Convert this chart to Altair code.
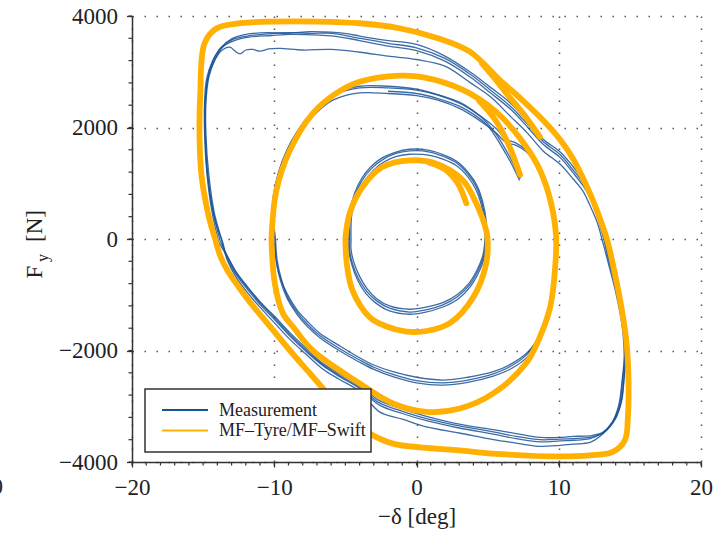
import altair as alt
import pandas as pd

# ---- Measurement (blue), several recorded cycles per amplitude ----
BLUE_LARGE_1 = [(-13.8,-40),(-14.3,500),(-14.7,1200),(-14.85,1900),(-14.85,2400),(-14.7,2850),(-14.4,3150),(-13.8,3420),(-13.0,3590),(-12.0,3670),(-10.5,3700),(-9.0,3690),(-7.5,3720),(-6.0,3710),(-4.8,3680),(-4.0,3640),(-2.0,3560),(0.0,3490),(2.0,3280),(3.8,2990),(5.2,2720),(6.6,2440),(7.8,2110),(8.9,1790),(10.1,1560),(11.0,1300),(11.7,1050),(12.2,800),(12.7,460),(13.1,120),(13.5,-300),(14.1,-850),(14.55,-1450),(14.75,-2000),(14.6,-2450),(14.4,-2900),(14.0,-3220),(13.2,-3460),(12.2,-3530),(11.0,-3540),(10.1,-3560),(8.7,-3560),(7.0,-3490),(5.4,-3420),(3.0,-3320),(0.7,-3180),(-1.0,-3050),(-2.6,-2900),(-4.0,-2630),(-5.4,-2420),(-6.6,-2230),(-7.8,-1950),(-8.9,-1680),(-10.0,-1380),(-10.8,-1180),(-11.8,-880),(-12.7,-580),(-13.3,-300),(-13.8,-40)]
BLUE_LARGE_2 = [(-13.6,-80),(-14.2,450),(-14.6,1150),(-14.8,1850),(-14.8,2450),(-14.6,2900),(-14.2,3200),(-13.6,3450),(-12.8,3560),(-11.8,3620),(-10.2,3650),(-8.8,3670),(-7.2,3660),(-5.8,3640),(-4.0,3560),(-2.0,3460),(0.0,3380),(2.0,3190),(3.8,2900),(5.2,2620),(6.6,2330),(7.8,2010),(8.9,1700),(10.1,1460),(11.0,1190),(11.7,960),(12.2,740),(12.7,400),(13.1,60),(13.5,-380),(14.05,-900),(14.5,-1500),(14.65,-2050),(14.5,-2500),(14.3,-2950),(13.8,-3270),(13.0,-3490),(12.2,-3580),(11.0,-3610),(10.1,-3620),(8.7,-3640),(7.0,-3580),(5.4,-3500),(3.0,-3390),(0.7,-3260),(-1.0,-3130),(-2.6,-2980),(-4.0,-2680),(-5.4,-2470),(-6.6,-2270),(-7.8,-2010),(-8.9,-1740),(-10.0,-1440),(-10.8,-1230),(-11.8,-930),(-12.7,-630),(-13.3,-350),(-13.6,-80)]
BLUE_LARGE_3 = [(-13.7,-20),(-14.3,480),(-14.7,1180),(-14.85,1880),(-14.85,2500),(-14.6,2950),(-14.1,3250),(-13.6,3400),(-13.1,3440),(-12.8,3380),(-12.4,3320),(-12.0,3390),(-11.5,3400),(-11.0,3370),(-10.4,3410),(-9.6,3420),(-8.0,3390),(-6.0,3400),(-4.0,3350),(-2.0,3280),(0.0,3220),(2.0,3100),(3.8,2800),(5.2,2550),(6.6,2200),(7.8,1900),(8.9,1580),(10.1,1340),(11.0,1080),(11.7,860),(12.2,600),(12.7,300),(13.1,-60),(13.5,-450),(14.0,-950),(14.45,-1550),(14.6,-2100),(14.45,-2550),(14.2,-3000),(13.7,-3320),(12.9,-3540),(12.2,-3650),(11.0,-3680),(10.1,-3700),(8.7,-3720),(7.0,-3660),(5.4,-3600),(3.0,-3480),(0.7,-3370),(-1.0,-3230),(-2.6,-3100),(-4.0,-2730),(-5.4,-2520),(-6.6,-2330),(-7.8,-2060),(-8.9,-1800),(-10.0,-1500),(-10.8,-1280),(-11.8,-990),(-12.7,-680),(-13.3,-380),(-13.7,-20)]
BLUE_LARGE_4 = [(-13.9,-60),(-14.4,520),(-14.75,1220),(-14.9,1920),(-14.9,2450),(-14.75,2880),(-14.35,3180),(-13.7,3440),(-12.9,3580),(-11.9,3640),(-10.4,3680),(-8.9,3700),(-7.4,3690),(-5.9,3690),(-4.0,3600),(-2.0,3510),(0.0,3430),(2.0,3240),(3.8,2950),(5.2,2670),(6.6,2380),(7.8,2060),(8.9,1750),(10.1,1510),(11.0,1240),(11.7,1010),(12.2,770),(12.7,430),(13.1,90),(13.55,-340),(14.1,-880),(14.5,-1480),(14.7,-2020),(14.6,-2480),(14.4,-2930),(13.9,-3250),(13.1,-3480),(12.2,-3560),(11.0,-3580),(10.1,-3590),(8.7,-3600),(7.0,-3540),(5.4,-3460),(3.0,-3350),(0.7,-3220),(-1.0,-3090),(-2.6,-2940),(-4.0,-2660),(-5.4,-2450),(-6.6,-2250),(-7.8,-1980),(-8.9,-1710),(-10.0,-1410),(-10.8,-1200),(-11.8,-900),(-12.7,-600),(-13.3,-320),(-13.9,-60)]

BLUE_MED_1 = [(-10.0,-20),(-10.15,400),(-10.05,800),(-9.7,1200),(-9.1,1600),(-8.4,1920),(-7.7,2160),(-6.8,2400),(-5.9,2570),(-4.0,2710),(-2.0,2710),(0.0,2670),(1.5,2580),(3.05,2430),(4.0,2290),(4.9,2130),(5.6,1980),(6.3,1790),(7.0,1720),(7.7,1600),(8.5,1330),(9.3,800),(9.8,100),(9.75,-500),(9.4,-1220),(8.9,-1600),(8.3,-1880),(7.7,-2060),(6.6,-2250),(5.4,-2380),(3.6,-2480),(1.85,-2530),(0.0,-2480),(-1.66,-2380),(-3.0,-2260),(-4.0,-2130),(-5.5,-1900),(-6.8,-1690),(-7.7,-1470),(-8.4,-1270),(-9.1,-980),(-9.6,-680),(-9.9,-340),(-10.0,-20)]
BLUE_MED_2 = [(-9.9,-40),(-10.05,380),(-9.95,780),(-9.6,1180),(-9.0,1560),(-8.3,1870),(-7.6,2110),(-6.7,2340),(-5.8,2500),(-4.0,2620),(-2.0,2610),(0.0,2570),(1.5,2490),(3.05,2340),(4.0,2200),(4.9,2040),(5.6,1900),(6.3,1730),(7.0,1680),(7.7,1570),(8.45,1310),(9.25,780),(9.75,100),(9.7,-500),(9.35,-1240),(8.8,-1640),(8.2,-1920),(7.6,-2110),(6.5,-2300),(5.4,-2420),(3.6,-2530),(1.85,-2580),(0.0,-2540),(-1.66,-2430),(-3.0,-2300),(-4.0,-2170),(-5.5,-1950),(-6.8,-1730),(-7.7,-1520),(-8.4,-1310),(-9.1,-1020),(-9.5,-720),(-9.8,-380),(-9.9,-40)]
BLUE_MED_3 = [(-9.95,0),(-10.1,420),(-10.0,820),(-9.65,1220),(-9.05,1620),(-8.35,1940),(-7.65,2190),(-6.75,2420),(-5.85,2600),(-4.0,2740),(-2.0,2740),(0.0,2690),(1.5,2590),(3.05,2450),(4.0,2300),(4.9,2100),(5.6,1880),(6.3,1590),(6.8,1350),(7.3,1080)]
BLUE_MED_4 = [(-2.0,2650),(0.0,2610),(1.5,2520),(3.05,2380),(4.0,2240),(4.9,2060),(5.6,1820),(6.3,1520),(6.8,1290),(7.25,1050)]
BLUE_MED_5 = [(9.3,-1300),(8.85,-1680),(8.25,-1960),(7.65,-2150),(6.55,-2340),(5.4,-2460),(3.6,-2570),(1.85,-2620),(0.0,-2580),(-1.66,-2470),(-3.0,-2340),(-4.0,-2210),(-5.5,-1990),(-6.8,-1770),(-7.7,-1560),(-8.4,-1350),(-9.1,-1060),(-9.55,-760),(-9.85,-400),(-9.95,-60)]

BLUE_SMALL_1 = [(-4.7,-20),(-4.65,460),(-4.3,800),(-3.8,1060),(-3.1,1280),(-2.4,1420),(-1.5,1530),(-0.47,1580),(0.94,1560),(1.9,1480),(2.8,1370),(3.6,1170),(4.2,940),(4.6,650),(4.85,300),(4.85,-50),(4.7,-330),(4.3,-580),(3.75,-820),(2.9,-1030),(1.85,-1180),(0.5,-1280),(-0.47,-1310),(-1.9,-1240),(-2.8,-1110),(-3.5,-940),(-4.1,-700),(-4.5,-440),(-4.7,-200),(-4.7,-20)]
BLUE_SMALL_2 = [(-4.6,-30),(-4.55,440),(-4.2,780),(-3.7,1030),(-3.0,1240),(-2.3,1380),(-1.4,1480),(-0.47,1520),(0.94,1500),(1.9,1430),(2.8,1320),(3.6,1120),(4.15,900),(4.55,620),(4.8,280),(4.8,-60),(4.65,-310),(4.25,-560),(3.7,-790),(2.85,-1000),(1.85,-1140),(0.5,-1230),(-0.47,-1260),(-1.9,-1200),(-2.8,-1070),(-3.45,-900),(-4.0,-670),(-4.4,-420),(-4.6,-190),(-4.6,-30)]
BLUE_SMALL_3 = [(-4.75,0),(-4.7,480),(-4.35,820),(-3.85,1090),(-3.15,1310),(-2.45,1450),(-1.55,1550),(-0.5,1610),(0.9,1590),(1.9,1510),(2.85,1390),(3.65,1190),(4.25,960),(4.65,670),(4.9,320),(4.9,-40),(4.75,-350),(4.35,-610),(3.8,-850),(2.95,-1070),(1.85,-1220),(0.5,-1320),(-0.5,-1350),(-1.9,-1290),(-2.85,-1150),(-3.55,-980),(-4.15,-730),(-4.55,-460),(-4.75,-220),(-4.75,0)]

# ---- MF-Tyre/MF-Swift simulation (orange) ----
ORANGE_LARGE = [(-14.15,0),(-14.45,250),(-14.7,515),(-15.1,1110),(-15.25,1800),(-15.2,2610),(-14.9,3510),(-14.07,3775),(-12.4,3870),(-10.0,3900),(-7.0,3900),(-4.0,3870),(-1.2,3780),(1.5,3600),(3.75,3360),(5.86,2850),(7.4,2500),(8.9,2130),(10.1,1780),(11.0,1440),(12.0,930),(12.7,500),(13.4,-20),(13.94,-615),(14.4,-1220),(14.75,-1820),(14.9,-2500),(14.86,-3190),(14.65,-3610),(13.8,-3820),(12.2,-3880),(10.1,-3900),(6.0,-3860),(3.0,-3790),(-1.66,-3670),(-3.3,-3490),(-4.0,-3370),(-5.0,-3130),(-6.3,-2760),(-7.6,-2380),(-8.9,-2000),(-10.2,-1600),(-11.5,-1200),(-12.5,-860),(-13.3,-560),(-13.8,-300),(-14.15,0)]
ORANGE_LARGE_TAIL = [(4.6,3150),(5.6,2850),(6.33,2610),(7.5,2250),(8.68,1830)]
ORANGE_MED = [(-10.2,0),(-9.85,870),(-8.9,1590),(-7.3,2250),(-5.6,2620),(-4.0,2820),(-1.17,2930),(0.5,2900),(3.3,2670),(5.6,2280),(7.3,1800),(8.5,1330),(9.3,800),(9.8,100),(9.75,-500),(9.4,-1220),(8.6,-1800),(7.7,-2230),(5.4,-2770),(3.05,-3040),(0.7,-3100),(-1.66,-2950),(-4.0,-2590),(-7.3,-2000),(-8.6,-1600),(-9.4,-1330),(-9.96,-800),(-10.2,0)]
ORANGE_MED_TAIL = [(4.4,2480),(5.5,2150),(6.5,1680),(7.28,1150)]
ORANGE_SMALL = [(-5.0,0),(-4.7,460),(-3.8,930),(-2.4,1290),(-0.47,1410),(1.4,1350),(3.27,1050),(4.2,640),(4.9,155),(5.0,-20),(4.9,-440),(4.0,-1040),(2.34,-1510),(0.7,-1650),(-0.7,-1660),(-2.2,-1560),(-3.3,-1400),(-4.5,-920),(-4.9,-440),(-5.0,0)]
ORANGE_SMALL_TAIL = [(0.9,1370),(2.0,1250),(2.9,1000),(3.5,640)]

X_MAJOR = [-20, -10, 0, 10, 20]
Y_MAJOR = [-4000, -2000, 0, 2000, 4000]
X_MINOR = list(range(-20, 21))
Y_MINOR = list(range(-4000, 4001, 400))

BLUE = "#1a5296"
ORANGE = "#ffb000"
FONT = "Liberation Serif"


def table(strands):
    rows = []
    for name, pts in strands:
        for i, (x, y) in enumerate(pts):
            rows.append({"x": x, "y": y, "strand": name, "order": i})
    return pd.DataFrame(rows)


blue_df = table([
    ("L1", BLUE_LARGE_1), ("L2", BLUE_LARGE_2), ("L3", BLUE_LARGE_3), ("L4", BLUE_LARGE_4),
    ("M1", BLUE_MED_1), ("M2", BLUE_MED_2), ("M3", BLUE_MED_3), ("M4", BLUE_MED_4),
    ("M5", BLUE_MED_5),
    ("S1", BLUE_SMALL_1), ("S2", BLUE_SMALL_2), ("S3", BLUE_SMALL_3),
])
orange_df = table([
    ("OL", ORANGE_LARGE), ("OLT", ORANGE_LARGE_TAIL),
    ("OM", ORANGE_MED), ("OMT", ORANGE_MED_TAIL),
    ("OS", ORANGE_SMALL), ("OST", ORANGE_SMALL_TAIL),
])

common_axis = dict(
    labelFont=FONT, labelFontSize=23, labelColor="#222",
    titleFont=FONT, titleFontSize=23, titleColor="#222", titleFontWeight="normal",
    domainColor="#333", domainWidth=1.5, tickColor="#333", tickWidth=1.3,
    grid=True, gridColor="#555", gridDash=[1.5, 10.5], gridWidth=1.5,
    labelFlush=False, labelOverlap=False, format="d",
)

x_scale = alt.Scale(domain=[-20, 20], nice=False, zero=False)
y_scale = alt.Scale(domain=[-4000, 4000], nice=False, zero=False)

x_enc = alt.X(
    "x:Q", scale=x_scale,
    axis=alt.Axis(values=X_MAJOR, tickSize=5, labelPadding=9,
                  title="\u2212\u03b4 [deg]", titlePadding=6, **common_axis),
)
y_enc = alt.Y(
    "y:Q", scale=y_scale,
    axis=alt.Axis(values=Y_MAJOR, tickSize=5.5, labelPadding=9, title=None, **common_axis),
)

blue = alt.Chart(blue_df).mark_line(
    color=BLUE, strokeWidth=1.3, opacity=0.85, interpolate="catmull-rom"
).encode(x=x_enc, y=y_enc, detail="strand:N", order="order:Q")

orange = alt.Chart(orange_df).mark_line(
    color=ORANGE, strokeWidth=5.8, interpolate="catmull-rom", strokeCap="round"
).encode(x="x:Q", y="y:Q", detail="strand:N", order="order:Q")

# minor ticks on the axes
x_minor = alt.Chart(pd.DataFrame({"x": X_MINOR})).mark_rule(
    color="#333", strokeWidth=1.2
).encode(x="x:Q", y=alt.value(446), y2=alt.value(449.5))
y_minor = alt.Chart(pd.DataFrame({"y": Y_MINOR})).mark_rule(
    color="#333", strokeWidth=1.2
).encode(y="y:Q", x=alt.value(-3.5), x2=alt.value(0))

one = pd.DataFrame({"a": [0]})

legend_box = alt.Chart(one).mark_rect(
    fill="white", stroke="#333", strokeWidth=1.5
).encode(x=alt.value(13), x2=alt.value(239), y=alt.value(373), y2=alt.value(436))
leg_blue = alt.Chart(one).mark_rule(color=BLUE, strokeWidth=1.8).encode(
    x=alt.value(30), x2=alt.value(76), y=alt.value(394))
leg_orange = alt.Chart(one).mark_rule(color=ORANGE, strokeWidth=1.8).encode(
    x=alt.value(30), x2=alt.value(76), y=alt.value(414.5))
leg_t1 = alt.Chart(one).mark_text(
    font=FONT, fontSize=18, align="left", baseline="middle", color="#222"
).encode(x=alt.value(87), y=alt.value(394.5), text=alt.value("Measurement"))
leg_t2 = alt.Chart(one).mark_text(
    font=FONT, fontSize=18, align="left", baseline="middle", color="#222"
).encode(x=alt.value(87), y=alt.value(415), text=alt.value("MF\u2013Tyre/MF\u2013Swift"))

ytitle_F = alt.Chart(one).mark_text(
    font=FONT, fontSize=23, angle=270, align="center", baseline="middle", color="#222"
).encode(x=alt.value(-97), y=alt.value(256), text=alt.value("F"))
ytitle_y = alt.Chart(one).mark_text(
    font=FONT, fontSize=16, angle=270, align="center", baseline="middle", color="#222"
).encode(x=alt.value(-89), y=alt.value(242), text=alt.value("y"))
ytitle_N = alt.Chart(one).mark_text(
    font=FONT, fontSize=23, angle=270, align="center", baseline="middle", color="#222"
).encode(x=alt.value(-97), y=alt.value(210), text=alt.value("[N]"))
stray = alt.Chart(one).mark_text(
    font=FONT, fontSize=23, align="right", baseline="middle", color="#222"
).encode(x=alt.value(-129), y=alt.value(471), text=alt.value("0"))

chart = alt.layer(
    blue, orange, x_minor, y_minor, legend_box, leg_blue, leg_orange, leg_t1, leg_t2,
    ytitle_F, ytitle_y, ytitle_N, stray,
).properties(
    width=569, height=446,
    padding={"left": 132, "right": 13, "top": 16, "bottom": 72},
    autosize=alt.AutoSizeParams(type="none"),
).configure_view(stroke=None)

chart.save("out.html", embed_options={"renderer": "svg", "actions": False})
